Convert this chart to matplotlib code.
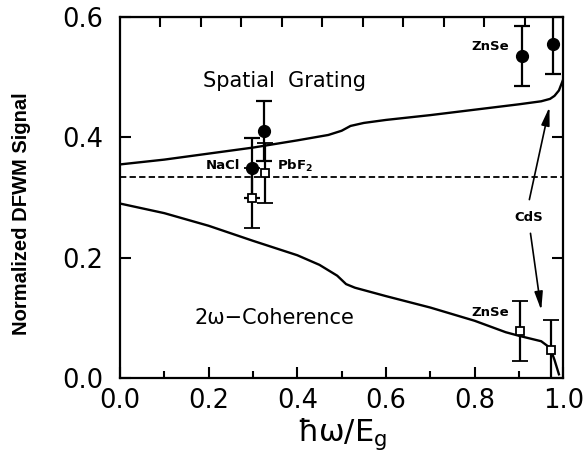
import matplotlib
matplotlib.use("Agg")
import matplotlib.pyplot as plt
import numpy as np

plt.rcParams['font.family'] = ['DejaVu Sans']
plt.rcParams['mathtext.default'] = 'regular'

# theory curves
grating_x = [0.0, 0.1, 0.2, 0.3, 0.4, 0.47, 0.5, 0.52, 0.55, 0.6, 0.7, 0.8, 0.9, 0.95, 0.97, 0.98, 0.99, 1.0]
grating_y = [0.355, 0.363, 0.373, 0.383, 0.395, 0.404, 0.411, 0.419, 0.424, 0.429, 0.437, 0.446, 0.455, 0.460, 0.464, 0.469, 0.478, 0.497]
coher_x = [0.0, 0.1, 0.2, 0.3, 0.4, 0.45, 0.49, 0.51, 0.53, 0.6, 0.7, 0.8, 0.87, 0.9, 0.95, 0.97, 0.98, 0.99]
coher_y = [0.290, 0.274, 0.253, 0.228, 0.204, 0.188, 0.170, 0.156, 0.150, 0.136, 0.117, 0.095, 0.076, 0.070, 0.061, 0.050, 0.030, 0.006]
isotropic = 1.0 / 3.0

# measured points: NaCl, PbF2, ZnSe, CdS
grating_px = [0.298, 0.325, 0.906, 0.976]
grating_py = [0.349, 0.410, 0.536, 0.556]
coher_px = [0.298, 0.328, 0.902, 0.972]
coher_py = [0.299, 0.341, 0.078, 0.047]
err = 0.05


def main():
    fig = plt.figure(figsize=(5.85, 4.62), dpi=100)
    ax = fig.add_axes([0.205, 0.182, 0.758, 0.781])

    ax.plot(grating_x, grating_y, color='black', lw=1.7)
    ax.plot(coher_x, coher_y, color='black', lw=1.7)
    ax.axhline(isotropic, color='black', lw=1.3, ls=(0, (3.5, 1.8)))

    ax.errorbar(grating_px, grating_py, yerr=err, fmt='o', color='black',
                ms=8.5, elinewidth=1.6, capsize=5.5, capthick=1.6, zorder=3)
    ax.errorbar(coher_px, coher_py, yerr=err, fmt='s', color='black', mfc='white',
                mec='black', mew=1.3, ms=6, elinewidth=1.6, capsize=5.5, capthick=1.6, zorder=4)

    ax.text(0.371, 0.493, 'Spatial  Grating', fontsize=15, ha='center', va='center')
    ax.text(0.349, 0.10, '2ω−Coherence', fontsize=15, ha='center', va='center')
    ax.text(0.233, 0.353, 'NaCl', fontsize=9.5, fontweight='bold', ha='center', va='center')
    ax.text(0.355, 0.353, 'PbF$_2$', fontsize=9.5, fontweight='bold', ha='left', va='center')
    ax.text(0.835, 0.551, 'ZnSe', fontsize=9.5, fontweight='bold', ha='center', va='center')
    ax.text(0.835, 0.109, 'ZnSe', fontsize=9.5, fontweight='bold', ha='center', va='center')
    ax.text(0.922, 0.266, 'CdS', fontsize=9.5, fontweight='bold', ha='center', va='center')

    arrow = dict(arrowstyle='-|>,head_length=1.1,head_width=0.25', color='black', lw=1.2)
    ax.annotate('', xy=(0.970, 0.455), xytext=(0.922, 0.292), arrowprops=arrow)
    ax.annotate('', xy=(0.951, 0.108), xytext=(0.925, 0.245), arrowprops=arrow)

    ax.set_xlim(0.0, 1.0)
    ax.set_ylim(0.0, 0.6)
    ax.set_xticks(np.arange(0.0, 1.01, 0.2))
    ax.set_xticks(np.arange(0.1, 1.0, 0.2), minor=True)
    ax.set_yticks(np.arange(0.0, 0.61, 0.2))
    ax.set_xticklabels(['0.0', '0.2', '0.4', '0.6', '0.8', '1.0'])
    ax.set_yticklabels(['0.0', '0.2', '0.4', '0.6'])
    ax.tick_params(axis='both', which='major', direction='in', length=8, width=1.5, labelsize=18.5)
    ax.tick_params(axis='x', which='major', pad=7)
    ax.tick_params(axis='y', which='major', pad=12, right=True)
    ax.tick_params(axis='x', which='minor', direction='in', length=5, width=1.5)
    for s in ax.spines.values():
        s.set_linewidth(1.6)

    top = ax.secondary_xaxis('top')
    top.set_xticks(np.arange(1, 11) * 0.0913)
    top.tick_params(direction='in', length=7, width=1.5, labeltop=False)

    ax.set_xlabel('$ħω/E_g$', fontsize=22, labelpad=2)
    ax.set_ylabel('Normalized DFWM Signal', family='Liberation Sans', fontweight='bold',
                  fontsize=14.5)
    ax.yaxis.set_label_coords(-0.20, 0.455)

    fig.savefig('out.png', dpi=100)


if __name__ == '__main__':
    main()
